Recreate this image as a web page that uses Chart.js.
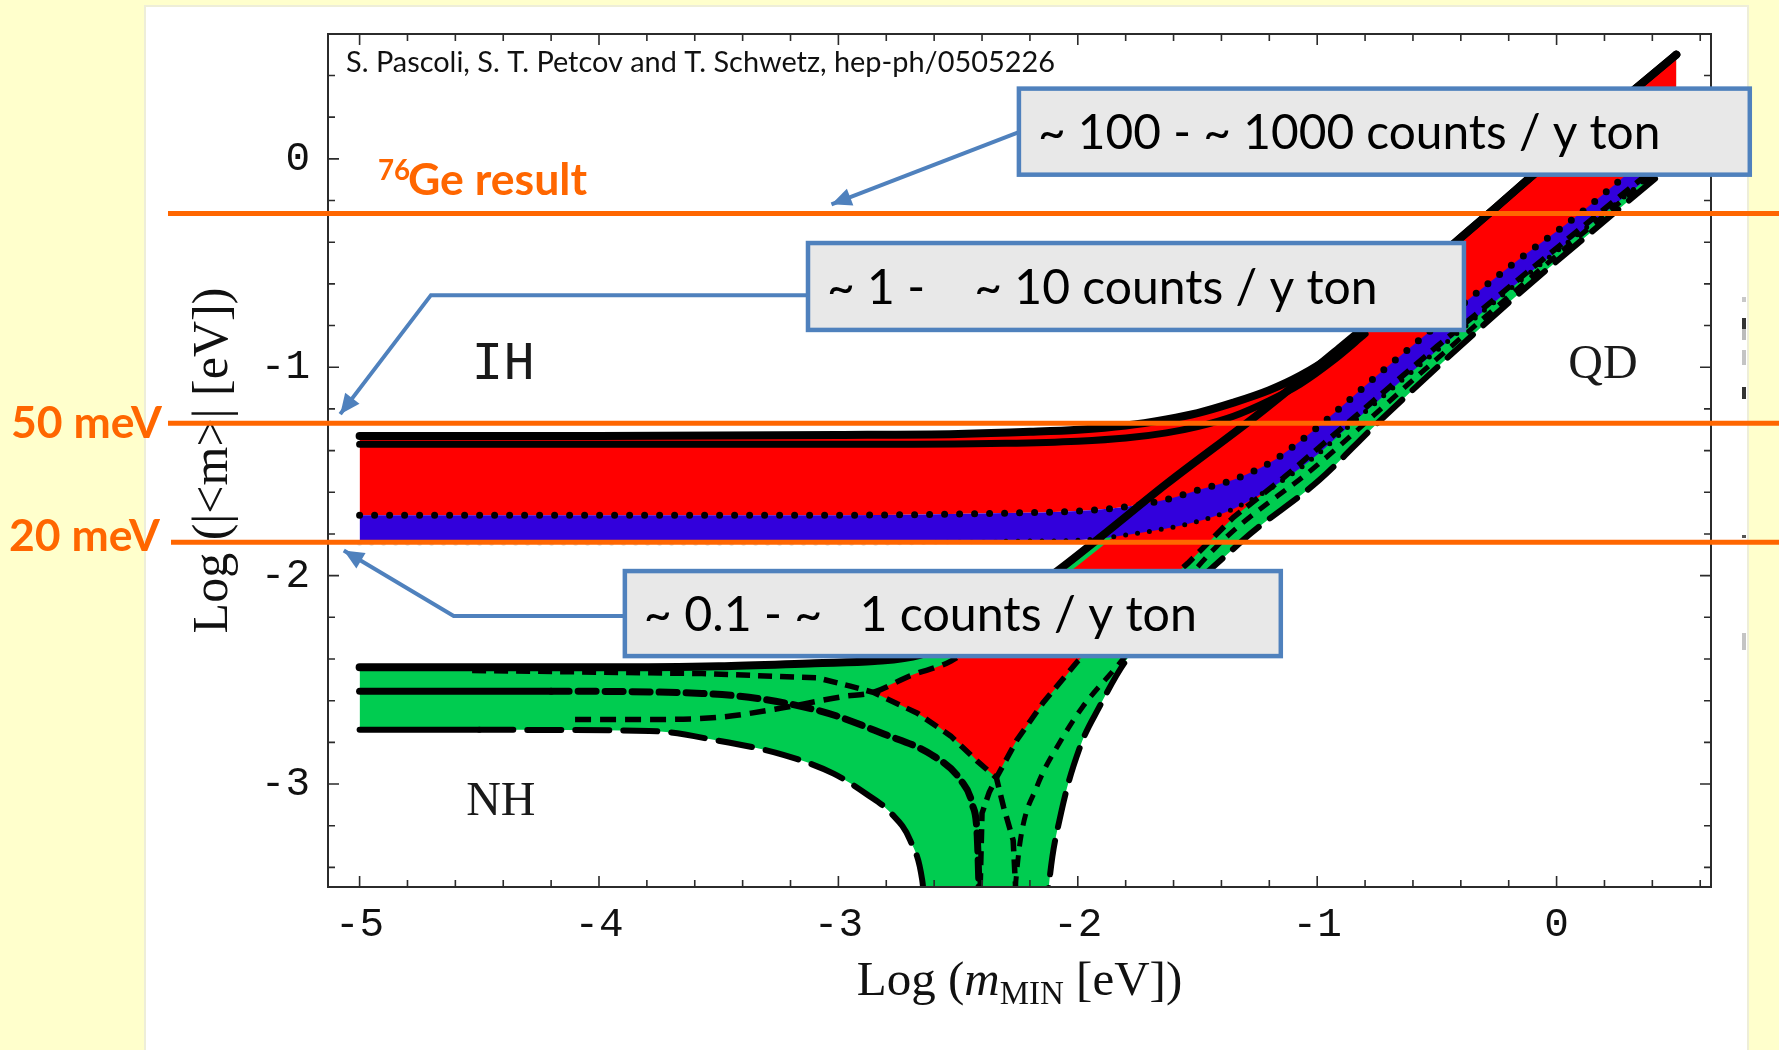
<!DOCTYPE html>
<html>
<head>
<meta charset="utf-8">
<title>Effective Majorana mass vs lightest neutrino mass</title>
<script src="https://cdn.jsdelivr.net/npm/chart.js@4.4.1/dist/chart.umd.min.js"></script>
<style>
  html, body { margin: 0; padding: 0; background: #ffffcc; overflow: hidden; }
  canvas { display: block; }
</style>
</head>
<body>
<canvas id="chart" width="1779" height="1050"></canvas>
<script>
// tick values of both axes (log10 of eV)
const xTicks = [-5, -4, -3, -2, -1, 0];
const yTicks = [-3, -2, -1, 0];

// inverted hierarchy: upper edge, second upper curve, red/blue border, lower edge
const ihUpper = [[-5, -1.33], [-4, -1.33], [-3, -1.325], [-2.5, -1.32], [-2.2, -1.31], [-2.0, -1.30], [-1.8, -1.28],
  [-1.63, -1.25], [-1.5, -1.22], [-1.35, -1.17], [-1.2, -1.11], [-1.07, -1.04], [-0.93, -0.94], [-0.75, -0.76],
  [-0.5, -0.48], [-0.25, -0.23], [0, 0.02], [0.25, 0.26], [0.5, 0.5]];
const ihUpper2 = [[-5, -1.37], [-3, -1.37], [-2.3, -1.365], [-2.0, -1.355], [-1.8, -1.34], [-1.63, -1.315],
  [-1.5, -1.285], [-1.35, -1.235], [-1.2, -1.16], [-1.07, -1.08], [-0.93, -0.965], [-0.8, -0.84]];
const ihMid = [[-5, -1.71], [-3, -1.71], [-2.3, -1.70], [-2.0, -1.69], [-1.8, -1.67], [-1.63, -1.635], [-1.5, -1.59],
  [-1.35, -1.54], [-1.2, -1.46], [-1.1, -1.38], [-0.99, -1.28], [-0.75, -1.04], [-0.5, -0.80], [-0.2, -0.52],
  [0.1, -0.26], [0.5, 0.13]];
const ihLower = [[-5, -1.845], [-3, -1.845], [-2.3, -1.835], [-2.0, -1.83], [-1.77, -1.80], [-1.5, -1.74],
  [-1.35, -1.68], [-1.14, -1.54], [-1.0, -1.42], [-0.865, -1.28], [-0.5, -0.92], [-0.2, -0.63], [0.2, -0.26],
  [0.5, 0.02]];

// normal hierarchy: outer edges, red (CP violating) region, dashed CP-conserving curves
const nhUpper = [[-5, -2.44], [-4, -2.44], [-3.5, -2.435], [-3.1, -2.42], [-2.85, -2.41], [-2.66, -2.38],
  [-2.5, -2.30], [-2.3, -2.15], [-2.1, -1.99], [-1.9, -1.81], [-1.63, -1.56], [-1.24, -1.22], [-0.93, -0.93],
  [-0.75, -0.755], [-0.5, -0.48], [-0.25, -0.23], [0, 0.02], [0.25, 0.26], [0.5, 0.5]];
const nhLower = [[-5, -2.74], [-4.5, -2.74], [-3.79, -2.745], [-3.51, -2.79], [-3.23, -2.86], [-3.02, -2.95],
  [-2.88, -3.05], [-2.78, -3.14], [-2.70, -3.27], [-2.65, -3.46], [-2.62, -3.8], [-2.14, -3.8], [-2.12, -3.48],
  [-2.07, -3.14], [-1.99, -2.82], [-1.91, -2.63], [-1.80, -2.41], [-1.32, -1.84], [-0.99, -1.54],
  [-0.75, -1.27], [-0.19, -0.68], [0.24, -0.26], [0.5, -0.01]];
const nhRedUpper = [[-2.855, -2.56], [-2.7, -2.48], [-2.53, -2.41], [-2.3, -2.22], [-2.1, -2.04], [-1.9, -1.86],
  [-1.63, -1.60], [-1.24, -1.26], [-0.93, -0.96], [-0.5, -0.51], [0, -0.01], [0.5, 0.48]];
const nhRedLower = [[-2.855, -2.56], [-2.76, -2.61], [-2.67, -2.66], [-2.6, -2.71], [-2.53, -2.77], [-2.47, -2.83],
  [-2.42, -2.89], [-2.34, -2.97], [-2.3, -2.88], [-2.255, -2.79], [-2.2, -2.70], [-2.145, -2.61], [-2.07, -2.51],
  [-2.0, -2.41], [-1.77, -2.17], [-1.54, -1.94], [-1.35, -1.72], [-1.14, -1.53], [-0.865, -1.26], [-0.5, -0.90],
  [0.2, -0.24], [0.5, 0.04]];
const nhMid = [[-5, -2.555], [-4.2, -2.555], [-3.57, -2.565], [-3.09, -2.645], [-2.81, -2.76], [-2.61, -2.86],
  [-2.49, -2.98], [-2.44, -3.1], [-2.42, -3.25], [-2.41, -3.6]];
const nhEdgeA = [[-4.53, -2.455], [-3.57, -2.47], [-3.09, -2.49], [-2.95, -2.53], [-2.855, -2.56], [-2.67, -2.66],
  [-2.53, -2.77], [-2.42, -2.89], [-2.34, -2.97], [-2.31, -3.11], [-2.27, -3.27], [-2.255, -3.6]];
const nhEdgeB = [[-4.1, -2.69], [-3.8, -2.69], [-3.5, -2.68], [-3.26, -2.64], [-2.98, -2.58], [-2.855, -2.56],
  [-2.7, -2.48], [-2.53, -2.41], [-2.3, -2.22]];
const nhEdgeC = [[-2.41, -3.6], [-2.40, -3.14], [-2.37, -3.04], [-2.34, -2.97], [-2.255, -2.79], [-2.145, -2.61],
  [-2.0, -2.41], [-1.54, -1.94], [-1.35, -1.72], [-1.14, -1.53], [-0.865, -1.26], [-0.5, -0.90], [0.2, -0.24],
  [0.5, 0.04]];
const nhEdgeD = [[-2.27, -3.6], [-2.24, -3.27], [-2.17, -3.01], [-2.07, -2.79], [-1.98, -2.63], [-1.84, -2.44],
  [-1.42, -1.86], [-1.0, -1.47], [-0.5, -0.96], [0.2, -0.27], [0.5, 0.01]];

// orange reference levels drawn on the slide
const refLevels = [-0.262, -1.269, -1.84];
const refNames = ['Ge result', '50 meV', '20 meV'];

// region names and count-rate notes
const regionNames = ['IH', 'QD', 'NH'];
const noteTexts = ['~ 100 - ~ 1000 counts / y ton', '~ 1 -    ~ 10 counts / y ton', '~ 0.1 - ~   1 counts / y ton'];

const RED = '#ff0000', BLUE = '#3200dc', GREEN = '#00cc50', BLACK = '#000000';
const ORANGE = '#ff6600', NOTE_BLUE = '#4f81bd';

const pts = arr => arr.map(([x, y]) => ({ x, y }));

function curve(arr, opts) {
  return Object.assign({
    data: pts(arr),
    borderColor: BLACK,
    borderWidth: 0,
    fill: false,
    pointRadius: 0,
    clip: 0,
    order: 0,
    cubicInterpolationMode: 'monotone'
  }, opts);
}

const datasets = [
  // fills (plain boundaries, no styling, drawn underneath)
  curve(nhUpper, { fill: 1, backgroundColor: GREEN, order: 4 }),                                  // 0
  curve(nhLower, {}),                                                                             // 1
  curve(nhRedUpper, { fill: 3, backgroundColor: RED, order: 3 }),                                 // 2
  curve(nhRedLower, { cubicInterpolationMode: 'default', tension: 0 }),                           // 3
  curve(ihUpper, { fill: 5, backgroundColor: RED, order: 2 }),                                    // 4
  curve(ihMid, { fill: 6, backgroundColor: BLUE, order: 1 }),                                     // 5
  curve(ihLower, {}),                                                                             // 6
  // black curves
  curve(nhLower, { borderWidth: 6, borderCapStyle: 'round',
    segment: { borderDash: c => c.p1.parsed.x <= -4.5 ? [] : [34, 14] } }),
  curve(nhMid, { borderWidth: 7, borderCapStyle: 'round',
    segment: { borderDash: c => c.p1.parsed.x <= -4.2 ? [] : [18, 9] } }),
  curve(nhEdgeA, { borderWidth: 5.5, borderDash: [14, 8], cubicInterpolationMode: 'default', tension: 0 }),
  curve(nhEdgeB, { borderWidth: 5.5, borderDash: [16, 9] }),
  curve(nhEdgeC, { borderWidth: 5.5, borderDash: [14, 8], cubicInterpolationMode: 'default', tension: 0 }),
  curve(nhEdgeD, { borderWidth: 5, borderDash: [12, 9] }),
  curve(nhUpper, { borderWidth: 8, borderCapStyle: 'round' }),
  curve(ihLower, { borderWidth: 5, borderDash: [0, 12], borderCapStyle: 'round',
    segment: { borderColor: c => c.p0.parsed.x < -2.3 ? 'rgba(0,0,0,0.15)' : BLACK } }),
  curve(ihMid, { borderWidth: 7, borderDash: [0, 15], borderCapStyle: 'round' }),
  curve(ihUpper2, { borderWidth: 7, borderCapStyle: 'round' }),
  curve(ihUpper, { borderWidth: 8, borderCapStyle: 'round' })
];

function tickText(v) {
  return String(v);
}

function fitFont(ctx, text, width, weight, family) {
  ctx.font = weight + ' 100px ' + family;
  const size = 100 * width / ctx.measureText(text).width;
  return weight + ' ' + size.toFixed(1) + 'px ' + family;
}

function arrow(ctx, path) {
  ctx.beginPath();
  ctx.moveTo(path[0][0], path[0][1]);
  for (let i = 1; i < path.length; i++) ctx.lineTo(path[i][0], path[i][1]);
  ctx.stroke();
  const [x1, y1] = path[path.length - 2];
  const [x2, y2] = path[path.length - 1];
  const a = Math.atan2(y2 - y1, x2 - x1);
  const L = 20, W = 9;
  ctx.beginPath();
  ctx.moveTo(x2, y2);
  ctx.lineTo(x2 - L * Math.cos(a) + W * Math.sin(a), y2 - L * Math.sin(a) - W * Math.cos(a));
  ctx.lineTo(x2 - L * Math.cos(a) - W * Math.sin(a), y2 - L * Math.sin(a) + W * Math.cos(a));
  ctx.closePath();
  ctx.fill();
}

const slidePlugin = {
  id: 'slide',
  beforeDraw(chart) {
    const ctx = chart.ctx;
    ctx.save();
    ctx.fillStyle = '#ffffcc';
    ctx.fillRect(0, 0, chart.width, chart.height);
    ctx.fillStyle = '#ffffff';
    ctx.fillRect(145, 6, 1603, chart.height);
    ctx.strokeStyle = '#eeeed8';
    ctx.lineWidth = 2;
    ctx.strokeRect(145, 6, 1603, chart.height + 10);
    // stray marks left on the scanned figure's right margin
    [[297, 302, '#c8c8c8'], [318, 329, '#333'], [329, 340, '#bbb'], [350, 365, '#c4c4c4'],
     [387, 399, '#333'], [535, 538, '#555'], [633, 650, '#c4c4c4']].forEach(([a, b, c]) => {
      ctx.fillStyle = c;
      ctx.fillRect(1742, a, 4, b - a);
    });
    ctx.restore();
  },
  afterDraw(chart) {
    const ctx = chart.ctx;
    const xs = chart.scales.x, ys = chart.scales.y;
    const { left, right, top, bottom } = chart.chartArea;
    const px = v => xs.getPixelForValue(v);
    const py = v => ys.getPixelForValue(v);
    ctx.save();

    // frame with inward ticks on all four sides
    ctx.strokeStyle = '#2b2b2b';
    ctx.lineWidth = 2;
    ctx.strokeRect(left, top, right - left, bottom - top);
    ctx.lineWidth = 1.6;
    ctx.beginPath();
    for (let i = -25; i <= 3; i++) {
      const X = px(i / 5);
      if (X <= left + 1 || X >= right - 1) continue;
      const len = i % 5 === 0 ? 11 : 7;
      ctx.moveTo(X, bottom); ctx.lineTo(X, bottom - len);
      ctx.moveTo(X, top); ctx.lineTo(X, top + len);
    }
    for (let i = -17; i <= 3; i++) {
      const Y = py(i / 5);
      if (Y <= top + 1 || Y >= bottom - 1) continue;
      const len = i % 5 === 0 ? 11 : 7;
      ctx.moveTo(left, Y); ctx.lineTo(left + len, Y);
      ctx.moveTo(right, Y); ctx.lineTo(right - len, Y);
    }
    ctx.stroke();

    // axis titles
    ctx.fillStyle = '#111';
    ctx.textBaseline = 'alphabetic';
    const runs = [
      ['Log (', '49px "Liberation Serif"', 0],
      ['m', 'italic 49px "Liberation Serif"', 0],
      ['MIN', '33px "Liberation Serif"', 9],
      [' [eV])', '49px "Liberation Serif"', 0]
    ];
    let total = 0;
    runs.forEach(r => { ctx.font = r[1]; total += ctx.measureText(r[0]).width; });
    let cx = (left + right) / 2 - total / 2;
    runs.forEach(r => {
      ctx.font = r[1];
      ctx.textAlign = 'left';
      ctx.fillText(r[0], cx, 995 + r[2]);
      cx += ctx.measureText(r[0]).width;
    });
    ctx.save();
    ctx.translate(227, (top + bottom) / 2);
    ctx.rotate(-Math.PI / 2);
    ctx.font = '50px "Liberation Serif"';
    ctx.textAlign = 'center';
    ctx.fillText('Log (|<m>| [eV])', 0, 0);
    ctx.restore();

    // citation
    ctx.fillStyle = '#111';
    ctx.textAlign = 'left';
    ctx.font = fitFont(ctx, 'S. Pascoli, S. T. Petcov and T. Schwetz, hep-ph/0505226', 709, '400', 'Lato');
    ctx.fillText('S. Pascoli, S. T. Petcov and T. Schwetz, hep-ph/0505226', left + 18, 72);

    // region names
    ctx.textAlign = 'center';
    ctx.textBaseline = 'middle';
    ctx.fillStyle = '#1a1a1a';
    ctx.font = '300 53px "Liberation Mono"';
    ctx.fillText(regionNames[0], px(-4.40), py(-0.99));
    ctx.font = '48px "Liberation Serif"';
    ctx.fillText(regionNames[1], px(0.194), py(-0.99));
    ctx.fillText(regionNames[2], px(-4.41), py(-3.086));

    // orange reference lines
    ctx.strokeStyle = ORANGE;
    ctx.lineWidth = 5;
    refLevels.forEach((lvl, i) => {
      ctx.beginPath();
      ctx.moveTo(i === 2 ? 171 : 168, py(lvl));
      ctx.lineTo(chart.width, py(lvl));
      ctx.stroke();
    });

    // notes with arrows
    const notes = [
      { box: [-2.246, 0.337, 0.807, -0.076], width: 622, path: [[-2.246, 0.128], [-3.029, -0.218]] },
      { box: [-3.127, -0.404, -0.387, -0.821], width: 551, path: [[-3.127, -0.654], [-4.702, -0.654], [-5.081, -1.225]] },
      { box: [-3.892, -1.978, -1.152, -2.386], width: 553, path: [[-3.892, -2.194], [-4.607, -2.194], [-5.066, -1.879]] }
    ];
    notes.forEach((n, i) => {
      ctx.strokeStyle = NOTE_BLUE;
      ctx.fillStyle = NOTE_BLUE;
      ctx.lineWidth = 4;
      arrow(ctx, n.path.map(([x, y]) => [px(x), py(y)]));
      const x0 = px(n.box[0]), y0 = py(n.box[1]), x1 = px(n.box[2]), y1 = py(n.box[3]);
      ctx.fillStyle = '#e8e8e8';
      ctx.fillRect(x0, y0, x1 - x0, y1 - y0);
      ctx.lineWidth = 4.5;
      ctx.strokeRect(x0, y0, x1 - x0, y1 - y0);
      ctx.fillStyle = '#000';
      ctx.textAlign = 'left';
      ctx.textBaseline = 'middle';
      ctx.font = fitFont(ctx, noteTexts[i], n.width, '400', 'Lato');
      ctx.fillText(noteTexts[i], x0 + 19, (y0 + y1) / 2 + 2);
    });

    // orange labels
    ctx.fillStyle = ORANGE;
    ctx.textAlign = 'left';
    ctx.textBaseline = 'alphabetic';
    const geFont = fitFont(ctx, refNames[0], 179, 'bold', 'Lato');
    const geSize = parseFloat(geFont.split(' ')[1]);
    ctx.font = 'bold ' + (geSize * 0.62).toFixed(1) + 'px Lato';
    ctx.fillText('76', 378, py(refLevels[0]) - 33);
    ctx.font = geFont;
    ctx.fillText(refNames[0], 408, py(refLevels[0]) - 18);
    ctx.textBaseline = 'middle';
    ctx.font = fitFont(ctx, refNames[1], 151, 'bold', 'Lato');
    ctx.fillText(refNames[1], 11, py(refLevels[1]));
    ctx.font = fitFont(ctx, refNames[2], 151, 'bold', 'Lato');
    ctx.fillText(refNames[2], 9, py(refLevels[2]) - 6);

    ctx.restore();
  }
};

function noPad(s) {
  s.paddingTop = 0;
  s.paddingBottom = 0;
  s.paddingLeft = 0;
  s.paddingRight = 0;
}

new Chart(document.getElementById('chart'), {
  type: 'line',
  data: { datasets },
  options: {
    responsive: false,
    animation: false,
    events: [],
    layout: { padding: { top: 34, right: 68, bottom: 0, left: 0 } },
    plugins: {
      legend: { display: false },
      tooltip: { enabled: false },
      filler: { drawTime: 'beforeDatasetsDraw', propagate: false }
    },
    scales: {
      x: {
        type: 'linear',
        min: -5.132,
        max: 0.645,
        grid: { display: false, drawTicks: false },
        border: { display: false },
        afterBuildTicks: s => { s.ticks = xTicks.map(v => ({ value: v })); },
        afterFit: s => { s.height = 163; noPad(s); },
        ticks: {
          font: { family: 'Liberation Mono', size: 41 },
          color: '#111',
          padding: 14,
          maxRotation: 0,
          autoSkip: false,
          callback: v => tickText(v)
        }
      },
      y: {
        type: 'linear',
        min: -3.494,
        max: 0.599,
        grid: { display: false, drawTicks: false },
        border: { display: false },
        afterBuildTicks: s => { s.ticks = yTicks.map(v => ({ value: v })); },
        afterFit: s => { s.width = 328; noPad(s); },
        ticks: {
          font: { family: 'Liberation Mono', size: 41 },
          color: '#111',
          padding: 18,
          autoSkip: false,
          callback: v => tickText(v)
        }
      }
    }
  },
  plugins: [slidePlugin]
});
</script>
</body>
</html>
